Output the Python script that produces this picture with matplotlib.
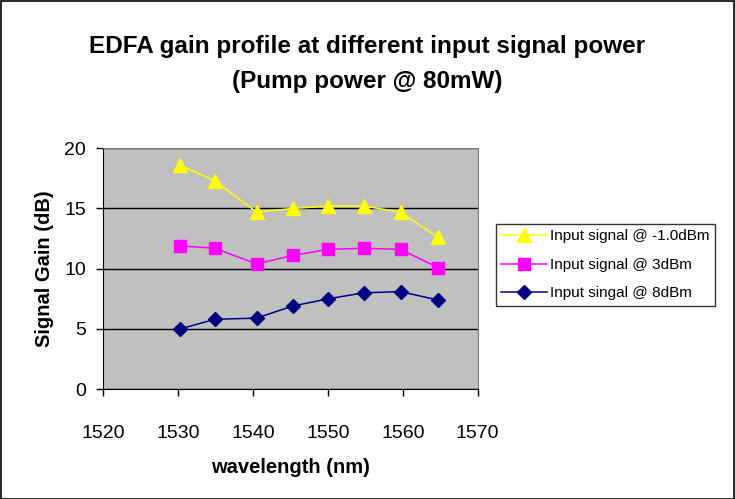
import matplotlib
matplotlib.use('Agg')
import matplotlib.pyplot as plt
from matplotlib.patches import Rectangle

plt.rcParams['font.family'] = ['Liberation Sans', 'DejaVu Sans']

wavelength = [1530.3, 1534.9, 1540.5, 1545.3, 1550.0, 1554.8, 1559.7, 1564.7]
gain_m1dbm = [18.6, 17.3, 14.7, 15.0, 15.2, 15.2, 14.7, 12.6]
gain_3dbm = [11.9, 11.7, 10.4, 11.1, 11.6, 11.7, 11.6, 10.1]
gain_8dbm = [5.0, 5.8, 5.9, 6.9, 7.5, 8.0, 8.1, 7.4]
series_labels = ['Input signal @ -1.0dBm', 'Input signal @ 3dBm', 'Input singal @ 8dBm']
x_ticks = [1520, 1530, 1540, 1550, 1560, 1570]
y_ticks = [0, 5, 10, 15, 20]

fig = plt.figure(figsize=(7.35, 4.99), dpi=100)
fig.patches.append(Rectangle((0.001, 0.001), 0.998, 0.997, transform=fig.transFigure,
                             fill=False, edgecolor='black', linewidth=1.2))

ax = fig.add_axes([0.140, 0.220, 0.510, 0.483])
ax.set_facecolor('#C0C0C0')

ax.plot(wavelength, gain_m1dbm, color='#FFFF00', marker='^', markersize=10, linewidth=1.1,
        label=series_labels[0])
ax.plot(wavelength, gain_3dbm, color='#FF00FF', marker='s', markersize=8, linewidth=1.1,
        label=series_labels[1])
ax.plot(wavelength, gain_8dbm, color='#000080', marker='D', markersize=7, linewidth=1.1,
        label=series_labels[2])

ax.set_xlim(1520, 1570)
ax.set_ylim(0, 20)
ax.set_xticks(x_ticks)
ax.set_yticks(y_ticks)
ax.yaxis.grid(True, color='black', linewidth=1.0)
ax.set_axisbelow(True)
ax.tick_params(direction='out', length=5, width=1, labelsize=14)
ax.tick_params(axis='x', pad=21)
ax.tick_params(axis='y', pad=7)

for side in ['top', 'right']:
    ax.spines[side].set_color('#808080')
for side in ['left', 'bottom']:
    ax.spines[side].set_color('black')

ax.set_xlabel('wavelength (nm)', fontsize=14.5, fontweight='bold', labelpad=11)
ax.set_ylabel('Signal Gain (dB)', fontsize=14.5, fontweight='bold', labelpad=7.5)

fig.suptitle('EDFA gain profile at different input signal power\n(Pump power @ 80mW)',
             fontsize=17.5, fontweight='bold', y=0.929, linespacing=1.65)

leg = fig.legend(loc='center', bbox_to_anchor=(0.824, 0.469), fontsize=11,
                 frameon=True, fancybox=False, edgecolor='black', borderpad=0.35,
                 handlelength=3.0, handletextpad=0.2, labelspacing=0.95,
                 borderaxespad=0)
leg.get_frame().set_linewidth(1.0)

fig.savefig('out.png', dpi=100)
